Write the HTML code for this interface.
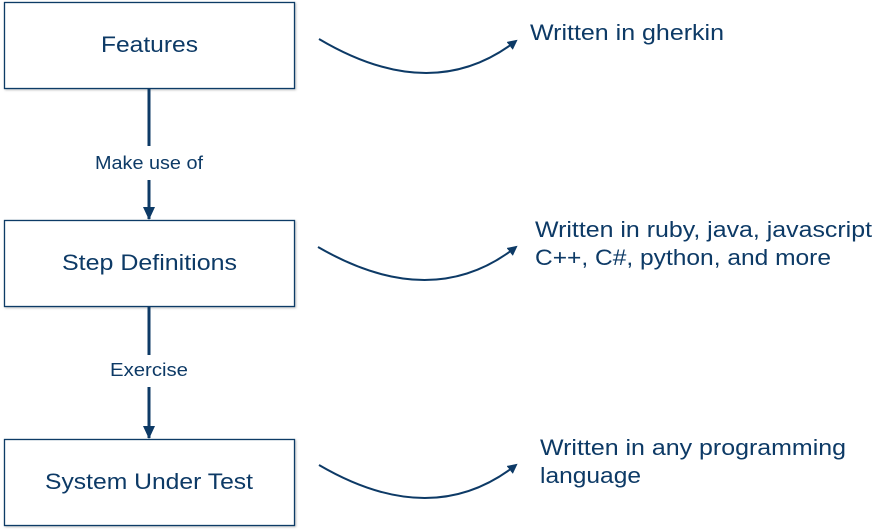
<!DOCTYPE html>
<html><head><style>
body{margin:0;background:#fff;}
svg{display:block;font-family:"Liberation Sans",sans-serif;}
</style></head><body>
<svg width="878" height="531" viewBox="0 0 878 531">
<defs>
<marker id="a" markerWidth="10" markerHeight="10" refX="8" refY="5" orient="auto" markerUnits="userSpaceOnUse">
<path d="M0,0 L10,5 L0,10 z" fill="#0d3a66"/></marker>
<marker id="b" markerWidth="14" markerHeight="14" refX="12" refY="7" orient="auto" markerUnits="userSpaceOnUse">
<path d="M0,1 L13,7 L0,13 z" fill="#0d3a66"/></marker>
<filter id="s"><feDropShadow dx="1" dy="1" stdDeviation="1" flood-opacity="0.25"/></filter>
</defs>
<g fill="#fff" stroke="#0d3a66" stroke-width="1.3" filter="url(#s)">
<rect x="4.5" y="2.5" width="290" height="86"/>
<rect x="4.5" y="220.5" width="290" height="86"/>
<rect x="4.5" y="439.5" width="290" height="86"/>
</g>
<g fill="#0d3a66" font-size="22" lengthAdjust="spacingAndGlyphs">
<text x="101" y="52" textLength="97" lengthAdjust="spacingAndGlyphs">Features</text>
<text x="62" y="270" textLength="175" lengthAdjust="spacingAndGlyphs">Step Definitions</text>
<text x="45" y="489" textLength="208" lengthAdjust="spacingAndGlyphs">System Under Test</text>
</g>
<g stroke="#0d3a66" stroke-width="3" fill="none">
<line x1="149" y1="88" x2="149" y2="146"/>
<line x1="149" y1="180" x2="149" y2="219" marker-end="url(#b)"/>
<line x1="149" y1="306" x2="149" y2="355"/>
<line x1="149" y1="387" x2="149" y2="438" marker-end="url(#b)"/>
</g>
<g fill="#0d3a66" font-size="18">
<text x="95" y="169" textLength="108" lengthAdjust="spacingAndGlyphs">Make use of</text>
<text x="110" y="376" textLength="78" lengthAdjust="spacingAndGlyphs">Exercise</text>
</g>
<g stroke="#0d3a66" stroke-width="2" fill="none">
<path d="M319,39 Q432,106 516,41" marker-end="url(#a)"/>
<path d="M318,247 Q432,313 516,247" marker-end="url(#a)"/>
<path d="M319,465 Q432,531 516,465" marker-end="url(#a)"/>
</g>
<g fill="#0d3a66" font-size="22">
<text x="530" y="40" textLength="194" lengthAdjust="spacingAndGlyphs">Written in gherkin</text>
<text x="535" y="237" textLength="337" lengthAdjust="spacingAndGlyphs">Written in ruby, java, javascript</text>
<text x="535" y="265" textLength="296" lengthAdjust="spacingAndGlyphs">C++, C#, python, and more</text>
<text x="540" y="455" textLength="306" lengthAdjust="spacingAndGlyphs">Written in any programming</text>
<text x="540" y="483" textLength="101" lengthAdjust="spacingAndGlyphs">language</text>
</g>
</svg>
</body></html>
